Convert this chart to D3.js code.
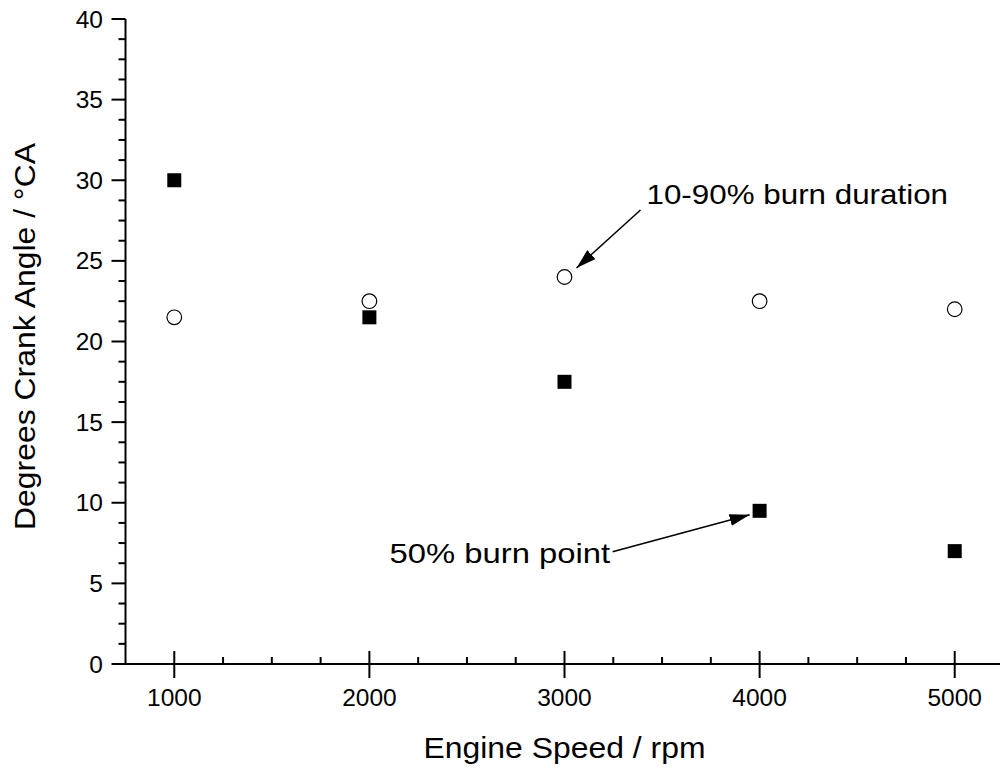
<!DOCTYPE html>
<html>
<head>
<meta charset="utf-8">
<script src="https://cdn.jsdelivr.net/npm/d3@7"></script>
<style>
  html, body { margin: 0; padding: 0; background: #fff; }
  svg { display: block; font-family: "Liberation Sans", Arial, sans-serif; }
</style>
</head>
<body>
<svg id="chart" width="1000" height="769"></svg>
<script>
// Engine speed sweep (rpm)
const speeds = [1000, 2000, 3000, 4000, 5000];
// 50% mass-fraction-burned point, °CA
const burnPoint50 = [30, 21.5, 17.5, 9.5, 7];
// 10-90% burn duration, °CA
const burnDuration1090 = [21.5, 22.5, 24, 22.5, 22];

const xTicks = [1000, 2000, 3000, 4000, 5000];
const yTicks = [0, 5, 10, 15, 20, 25, 30, 35, 40];

const xTitle = "Engine Speed / rpm";
const yTitle = "Degrees Crank Angle / °CA";
const labelDuration = "10-90% burn duration";
const labelPoint = "50% burn point";

const svg = d3.select("#chart");

const x = d3.scaleLinear().domain([750, 5250]).range([125.5, 1003.5]);
const y = d3.scaleLinear().domain([0, 40]).range([664, 19]);

const ink = "#000";

// Horizontal stretch for the larger captions
function stretch(sel, k) {
  sel.each(function () {
    const len = this.getComputedTextLength();
    d3.select(this).attr("textLength", len * k).attr("lengthAdjust", "spacingAndGlyphs");
  });
}

// ---- X axis ----
const gx = svg.append("g");
gx.append("line")
  .attr("x1", x.range()[0]).attr("x2", 1000)
  .attr("y1", y(0)).attr("y2", y(0))
  .attr("stroke", ink).attr("stroke-width", 2);

const xMinor = d3.range(1250, 5250, 250).filter(v => v % 1000 !== 0);
gx.selectAll("line.minor").data(xMinor).join("line")
  .attr("class", "minor")
  .attr("x1", d => x(d)).attr("x2", d => x(d))
  .attr("y1", y(0)).attr("y2", y(0) - 7)
  .attr("stroke", ink).attr("stroke-width", 2);

gx.selectAll("line.major").data(xTicks).join("line")
  .attr("class", "major")
  .attr("x1", d => x(d)).attr("x2", d => x(d))
  .attr("y1", y(0) - 13).attr("y2", y(0) + 14)
  .attr("stroke", ink).attr("stroke-width", 2);

gx.selectAll("text").data(xTicks).join("text")
  .attr("x", d => x(d)).attr("y", 706)
  .attr("text-anchor", "middle")
  .attr("font-size", 24.5).attr("fill", ink)
  .text(d => d);

// ---- Y axis ----
const gy = svg.append("g");
gy.append("line")
  .attr("x1", x.range()[0]).attr("x2", x.range()[0])
  .attr("y1", y(40)).attr("y2", y(0) + 1)
  .attr("stroke", ink).attr("stroke-width", 2);

const yMinor = d3.range(1.25, 40, 1.25).filter(v => v % 5 !== 0);
gy.selectAll("line.minor").data(yMinor).join("line")
  .attr("class", "minor")
  .attr("x1", x.range()[0]).attr("x2", x.range()[0] - 7)
  .attr("y1", d => y(d)).attr("y2", d => y(d))
  .attr("stroke", ink).attr("stroke-width", 2);

gy.selectAll("line.major").data(yTicks).join("line")
  .attr("class", "major")
  .attr("x1", x.range()[0]).attr("x2", x.range()[0] - 14)
  .attr("y1", d => y(d)).attr("y2", d => y(d))
  .attr("stroke", ink).attr("stroke-width", 2);

gy.selectAll("text").data(yTicks).join("text")
  .attr("x", 103).attr("y", d => y(d))
  .attr("dy", "0.35em")
  .attr("text-anchor", "end")
  .attr("font-size", 24.5).attr("fill", ink)
  .text(d => d);

// ---- Axis titles ----
svg.append("text")
  .attr("x", x(3000)).attr("y", 758)
  .attr("text-anchor", "middle")
  .attr("font-size", 29).attr("fill", ink)
  .text(xTitle)
  .call(stretch, 1.1);

svg.append("text")
  .attr("transform", `translate(35, ${(y(0) + y(40)) / 2 - 5}) rotate(-90)`)
  .attr("text-anchor", "middle")
  .attr("font-size", 29).attr("fill", ink)
  .text(yTitle)
  .call(stretch, 1.1);

// ---- Data marks ----
const pts50 = speeds.map((s, i) => ({ s, v: burnPoint50[i] }));
const pts1090 = speeds.map((s, i) => ({ s, v: burnDuration1090[i] }));

const sq = 14;
svg.append("g").selectAll("rect").data(pts50).join("rect")
  .attr("x", d => x(d.s) - sq / 2).attr("y", d => y(d.v) - sq / 2)
  .attr("width", sq).attr("height", sq)
  .attr("fill", ink);

svg.append("g").selectAll("circle").data(pts1090).join("circle")
  .attr("cx", d => x(d.s)).attr("cy", d => y(d.v))
  .attr("r", 7.3)
  .attr("fill", "#fff").attr("stroke", ink).attr("stroke-width", 1.2);

// ---- Annotations ----
svg.append("defs").append("marker")
  .attr("id", "head")
  .attr("viewBox", "0 0 20 12")
  .attr("refX", 20).attr("refY", 6)
  .attr("markerWidth", 20).attr("markerHeight", 12)
  .attr("markerUnits", "userSpaceOnUse")
  .attr("orient", "auto")
  .append("path")
  .attr("d", "M0,0 L20,6 L0,12 Z")
  .attr("fill", ink);

function annotate(pt, label, textDx, textDy, fromDx, fromDy, tipDx, tipDy, k) {
  const px = x(pt.s), py = y(pt.v);
  svg.append("line")
    .attr("x1", px + fromDx).attr("y1", py + fromDy)
    .attr("x2", px + tipDx).attr("y2", py + tipDy)
    .attr("stroke", ink).attr("stroke-width", 1.5)
    .attr("marker-end", "url(#head)");
  svg.append("text")
    .attr("x", px + textDx).attr("y", py + textDy)
    .attr("font-size", 28.5).attr("fill", ink)
    .text(label)
    .call(stretch, k);
}

annotate(pts1090[2], labelDuration, 82, -73, 76, -67, 12, -9, 1.1);
annotate(pts50[3], labelPoint, -370, 52, -147, 41, -10, 4, 1.15);
</script>
</body>
</html>
